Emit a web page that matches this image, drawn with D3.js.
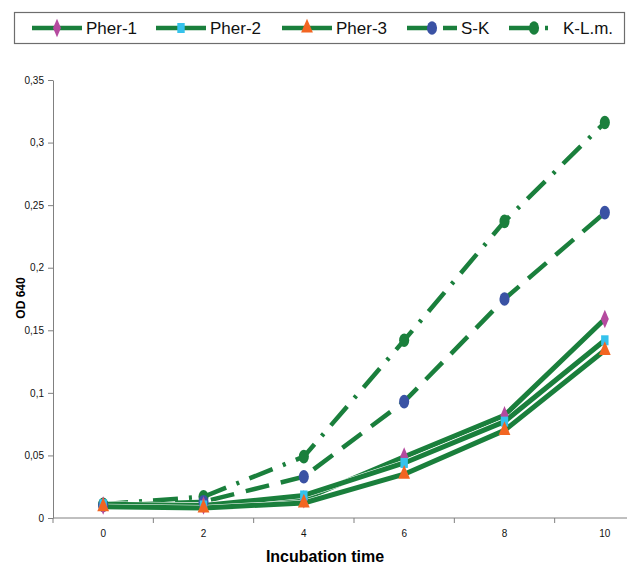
<!DOCTYPE html>
<html lang="en">
<head>
    <meta charset="UTF-8">
    <title>OD 640 vs incubation time</title>
    <script src="https://cdn.jsdelivr.net/npm/d3@7"></script>
    <style>
        body { margin: 0; background: #fff; }
        svg { display: block; font-family: "Liberation Sans", Arial, sans-serif; }
        .tick-label { font-family: "Liberation Sans Narrow", "Liberation Sans", Arial, sans-serif; font-size: 10px; }
    </style>
</head>
<body>
<div id="chart"></div>
<script>
    // values
    var times = ["0", "2", "4", "6", "8", "10"];
    var pher1 = [0.010, 0.010, 0.015, 0.049, 0.082, 0.159];
    var pher2 = [0.011, 0.010, 0.018, 0.044, 0.077, 0.142];
    var pher3 = [0.009, 0.008, 0.012, 0.035, 0.070, 0.134];
    var sk = [0.010, 0.013, 0.033, 0.093, 0.175, 0.244];
    var klm = [0.011, 0.017, 0.049, 0.142, 0.237, 0.316];
    var yTicks = [0, 0.05, 0.1, 0.15, 0.2, 0.25, 0.3, 0.35];
    var names = ["Pher-1", "Pher-2", "Pher-3", "S-K", "K-L.m."];

    var green = "#1a7f3c";
    var series = [
        {name: names[0], values: pher1, marker: d3.symbolDiamond, color: "#b54a9f", dash: null},
        {name: names[1], values: pher2, marker: d3.symbolSquare, color: "#35c2ec", dash: null},
        {name: names[2], values: pher3, marker: d3.symbolTriangle, color: "#f26522", dash: null},
        {name: names[3], values: sk, marker: d3.symbolCircle, color: "#3a52a4", dash: "24,12"},
        {name: names[4], values: klm, marker: d3.symbolCircle, color: green, dash: "25,11,3,11"}
    ];

    var width = 627, height = 565;
    var svg = d3.select("#chart").append("svg")
        .attr("width", width)
        .attr("height", height);

    var x = d3.scaleBand().domain(times).range([53, 655]);
    var y = d3.scaleLinear().domain([0, 0.35]).range([518, 80]);
    var fmt = function(d) { return String(d).replace(".", ","); };

    // y axis
    var yAxis = svg.append("g")
        .attr("transform", "translate(53,0)")
        .call(d3.axisLeft(y).tickValues(yTicks).tickSize(5).tickSizeOuter(0).tickFormat(fmt));
    yAxis.selectAll("text").attr("class", "tick-label").attr("fill", "#111").attr("dx", "-1");

    // x axis, ticks between categories
    var xAxis = svg.append("g").attr("transform", "translate(0,518)");
    xAxis.append("line").attr("x1", 53).attr("x2", width).attr("stroke", "#808080");
    xAxis.selectAll(".xt")
        .data(times)
        .enter()
        .append("line")
        .attr("x1", function(d) { return x(d); })
        .attr("x2", function(d) { return x(d); })
        .attr("y1", 0).attr("y2", 5)
        .attr("stroke", "#808080");
    xAxis.selectAll(".xl")
        .data(times)
        .enter()
        .append("text")
        .attr("class", "tick-label")
        .attr("x", function(d) { return x(d) + x.bandwidth() / 2; })
        .attr("y", 19)
        .attr("text-anchor", "middle")
        .attr("fill", "#111")
        .text(function(d) { return d; });
    yAxis.select(".domain").attr("stroke", "#808080");
    yAxis.selectAll(".tick line").attr("stroke", "#808080");

    // axis titles
    svg.append("text")
        .attr("x", 325).attr("y", 562)
        .attr("text-anchor", "middle")
        .attr("font-weight", "bold")
        .attr("font-size", "16px")
        .text("Incubation time");
    svg.append("text")
        .attr("transform", "translate(25,298) rotate(-90)")
        .attr("text-anchor", "middle")
        .attr("font-weight", "bold")
        .attr("font-size", "12px")
        .text("OD 640");

    var cx = function(d, i) { return x(times[i]) + x.bandwidth() / 2; };
    var line = d3.line()
        .x(function(d, i) { return cx(d, i); })
        .y(function(d) { return y(d); });

    // lines: dashed ones first, solid ones on top with a thin white edge
    [series[4], series[3]].forEach(function(s) {
        svg.append("path")
            .attr("d", line(s.values))
            .attr("fill", "none")
            .attr("stroke", green)
            .attr("stroke-width", 4.5)
            .attr("stroke-dasharray", s.dash);
    });
    series.slice(0, 3).forEach(function(s) {
        svg.append("path")
            .attr("d", line(s.values))
            .attr("fill", "none")
            .attr("stroke", "#fff")
            .attr("stroke-width", 6)
            .attr("stroke-linejoin", "round");
        svg.append("path")
            .attr("d", line(s.values))
            .attr("fill", "none")
            .attr("stroke", green)
            .attr("stroke-width", 5)
            .attr("stroke-linejoin", "round");
    });

    var symbol = function(s) {
        var size = s.marker === d3.symbolCircle ? 80 : (s.marker === d3.symbolTriangle ? 60 : 55);
        return d3.symbol().type(s.marker).size(size)();
    };

    // markers, stretched a bit vertically like the original
    [series[4], series[3], series[0], series[1], series[2]].forEach(function(s) {
        svg.selectAll(null)
            .data(s.values)
            .enter()
            .append("path")
            .attr("d", symbol(s))
            .attr("transform", function(d, i) {
                return "translate(" + cx(d, i) + "," + y(d) + ") scale(1,1.35)";
            })
            .attr("fill", s.color);
    });

    // legend
    var legend = svg.append("g");
    legend.append("rect")
        .attr("x", 14.5).attr("y", 12.5)
        .attr("width", 610).attr("height", 31)
        .attr("fill", "#fff")
        .attr("stroke", "#6d6d6d")
        .attr("stroke-width", 1.2);
    var legendX = [32, 156, 282, 407, 509];
    var items = legend.selectAll(".item")
        .data(series)
        .enter()
        .append("g")
        .attr("transform", function(d, i) { return "translate(" + legendX[i] + ",28)"; });
    items.append("line")
        .attr("x1", 0).attr("x2", 50)
        .attr("stroke", green)
        .attr("stroke-width", 4.5)
        .attr("stroke-dasharray", function(d) { return d.dash; });
    items.append("path")
        .attr("d", function(d) { return symbol(d); })
        .attr("transform", "translate(25,0) scale(1,1.35)")
        .attr("fill", function(d) { return d.color; });
    items.append("text")
        .attr("x", 54).attr("y", 6)
        .attr("font-size", "17px")
        .attr("fill", "#111")
        .text(function(d) { return d.name; });
</script>
</body>
</html>
